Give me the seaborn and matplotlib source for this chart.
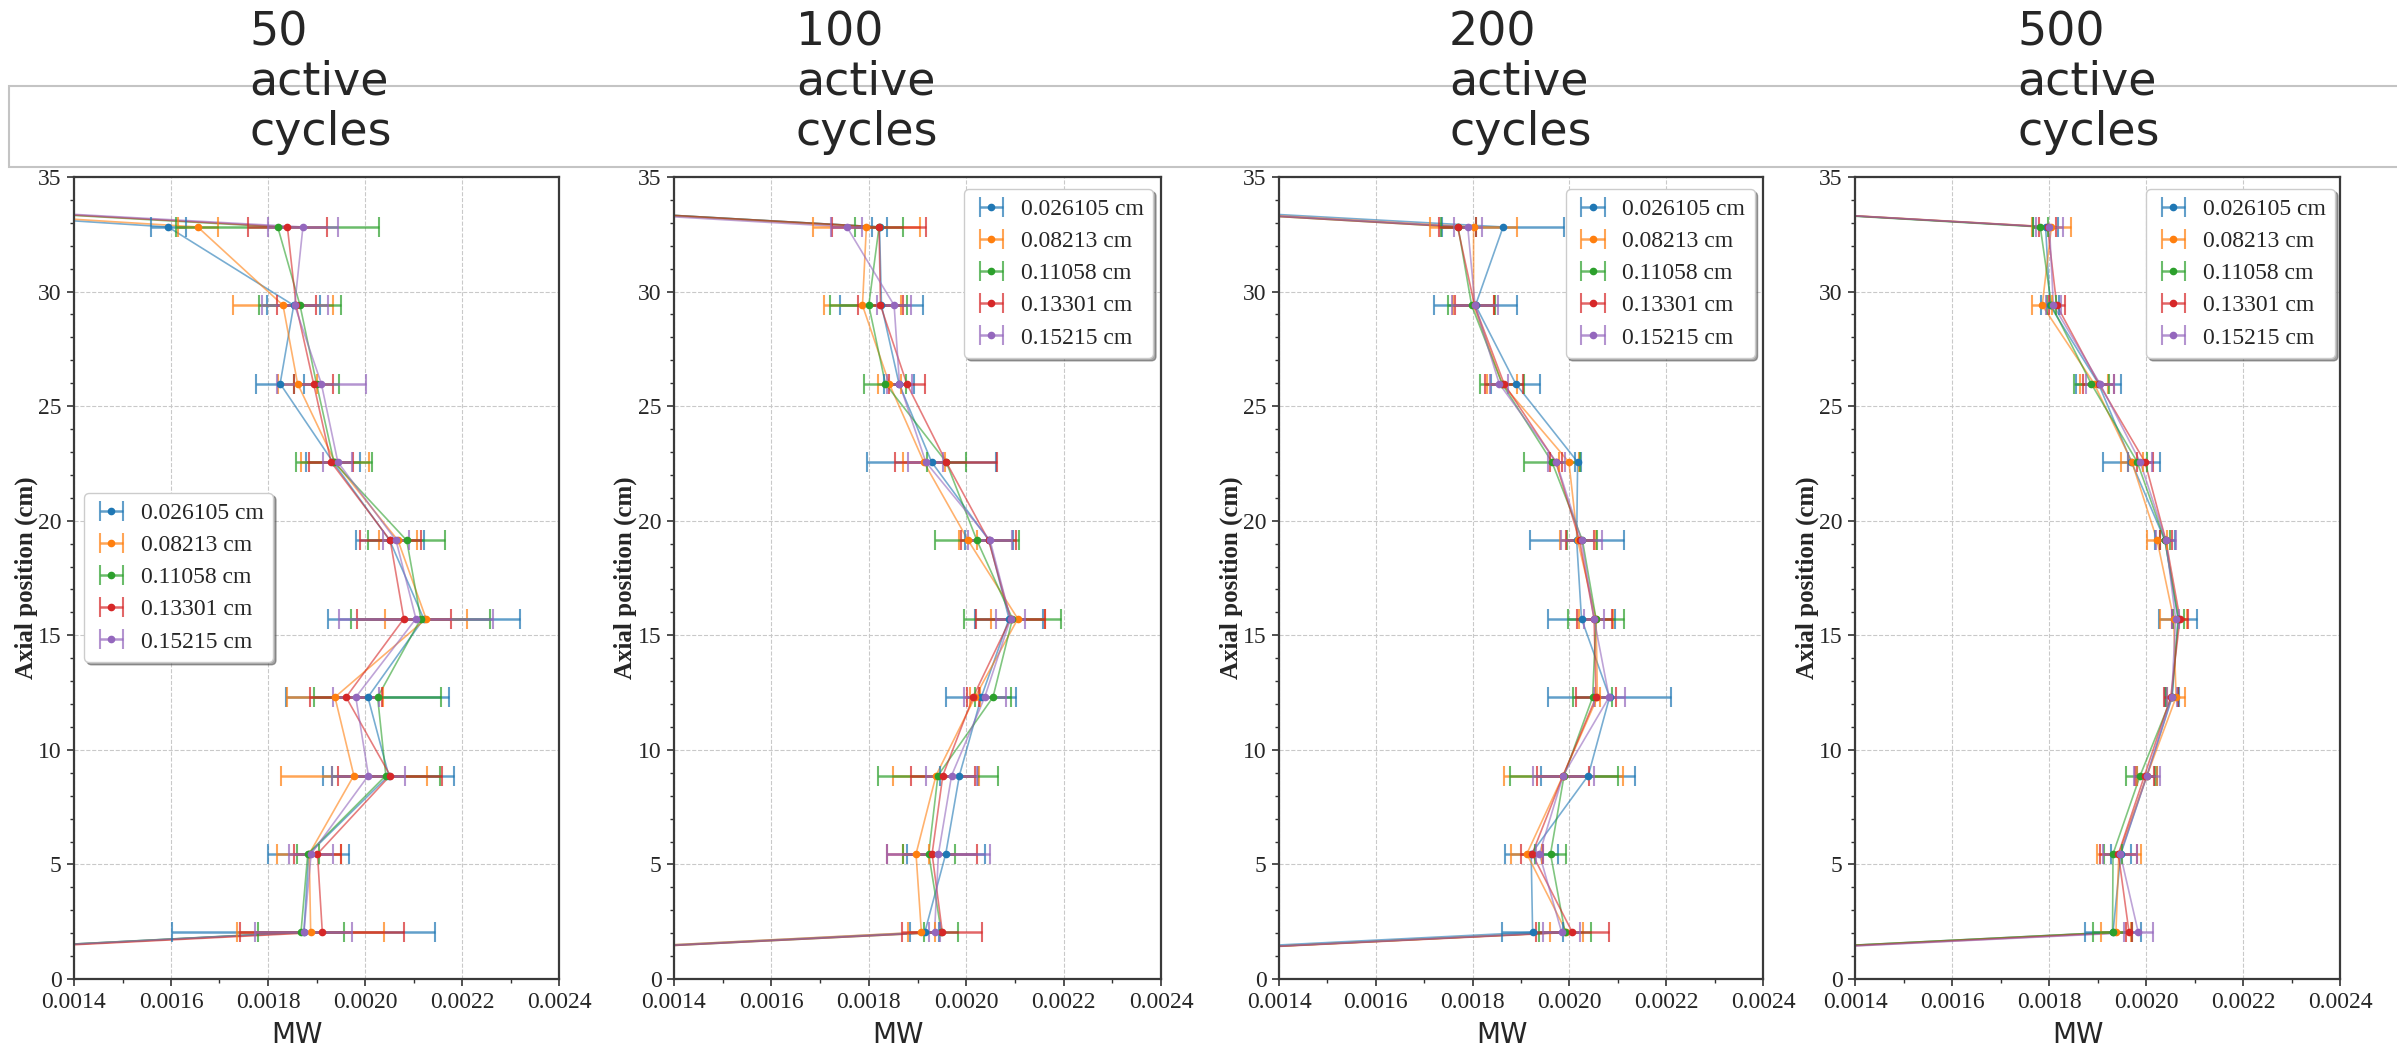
import matplotlib
matplotlib.use("Agg")
import matplotlib.pyplot as plt
from matplotlib.patches import Rectangle
from matplotlib.ticker import MultipleLocator, FormatStrFormatter
import pandas as pd
import seaborn as sns

# ---------------------------------------------------------------- data
thickness = ["0.026105 cm", "0.08213 cm", "0.11058 cm", "0.13301 cm", "0.15215 cm"]
cycles = ["50", "100", "200", "500"]

# axial node centres (cm), bottom to top
axial_z = [2.04, 5.46, 8.88, 12.30, 15.72, 19.14, 22.56, 25.98, 29.40, 32.82]
# zero-power boundary points at the bottom and the top of the rod
boundary_z = [0.0, 35.0]
boundary_mw = 0.0

# power per node (MW), one list per thickness, bottom to top
mw_50 = [
    [0.001874, 0.001884, 0.002049, 0.002006, 0.002121, 0.002051, 0.001934, 0.001825, 0.001853, 0.001594],
    [0.001888, 0.001885, 0.001977, 0.001938, 0.002126, 0.002068, 0.001938, 0.001861, 0.001831, 0.001655],
    [0.001868, 0.001882, 0.002043, 0.002026, 0.002115, 0.002086, 0.001936, 0.001900, 0.001866, 0.001820],
    [0.001912, 0.001902, 0.002052, 0.001961, 0.002080, 0.002052, 0.001930, 0.001894, 0.001858, 0.001840],
    [0.001874, 0.001889, 0.002007, 0.001981, 0.002105, 0.002064, 0.001944, 0.001910, 0.001855, 0.001872],
]
err_50 = [
    [0.000271, 0.000083, 0.000135, 0.000168, 0.000198, 0.000070, 0.000055, 0.000049, 0.000055, 0.000036],
    [0.000152, 0.000066, 0.000150, 0.000099, 0.000084, 0.000040, 0.000070, 0.000040, 0.000103, 0.000041],
    [0.000088, 0.000023, 0.000111, 0.000131, 0.000143, 0.000079, 0.000078, 0.000047, 0.000085, 0.000209],
    [0.000169, 0.000048, 0.000107, 0.000075, 0.000097, 0.000063, 0.000046, 0.000040, 0.000040, 0.000082],
    [0.000100, 0.000045, 0.000075, 0.000047, 0.000158, 0.000027, 0.000030, 0.000092, 0.000068, 0.000073],
]

mw_100 = [
    [0.001915, 0.001958, 0.001986, 0.002031, 0.002088, 0.002047, 0.001929, 0.001862, 0.001826, 0.001822],
    [0.001908, 0.001897, 0.001938, 0.002018, 0.002106, 0.002004, 0.001913, 0.001842, 0.001787, 0.001795],
    [0.001949, 0.001923, 0.001942, 0.002055, 0.002095, 0.002022, 0.001959, 0.001834, 0.001800, 0.001821],
    [0.001951, 0.001930, 0.001952, 0.002014, 0.002091, 0.002046, 0.001959, 0.001878, 0.001824, 0.001821],
    [0.001935, 0.001943, 0.001970, 0.002038, 0.002091, 0.002049, 0.001917, 0.001863, 0.001852, 0.001755],
]
err_100 = [
    [0.000030, 0.000080, 0.000039, 0.000072, 0.000070, 0.000050, 0.000133, 0.000030, 0.000086, 0.000015],
    [0.000027, 0.000027, 0.000088, 0.000010, 0.000055, 0.000018, 0.000043, 0.000024, 0.000080, 0.000110],
    [0.000035, 0.000053, 0.000123, 0.000037, 0.000100, 0.000087, 0.000040, 0.000043, 0.000079, 0.000050],
    [0.000082, 0.000093, 0.000066, 0.000012, 0.000071, 0.000056, 0.000105, 0.000037, 0.000047, 0.000096],
    [0.000011, 0.000105, 0.000053, 0.000043, 0.000029, 0.000046, 0.000036, 0.000025, 0.000035, 0.000032],
]

mw_200 = [
    [0.001924, 0.001921, 0.002039, 0.002083, 0.002025, 0.002015, 0.002017, 0.001889, 0.001806, 0.001863],
    [0.001994, 0.001912, 0.001987, 0.002058, 0.002055, 0.002017, 0.001999, 0.001861, 0.001802, 0.001802],
    [0.001991, 0.001961, 0.001989, 0.002048, 0.002055, 0.002027, 0.001964, 0.001861, 0.001798, 0.001770],
    [0.002006, 0.001923, 0.001987, 0.002055, 0.002051, 0.002021, 0.001972, 0.001865, 0.001804, 0.001769],
    [0.001984, 0.001938, 0.001987, 0.002082, 0.002051, 0.002025, 0.001973, 0.001855, 0.001805, 0.001790],
]
err_200 = [
    [0.000063, 0.000055, 0.000097, 0.000127, 0.000070, 0.000097, 0.000006, 0.000050, 0.000086, 0.000126],
    [0.000035, 0.000032, 0.000123, 0.000006, 0.000036, 0.000037, 0.000020, 0.000031, 0.000043, 0.000090],
    [0.000053, 0.000032, 0.000111, 0.000041, 0.000057, 0.000031, 0.000057, 0.000045, 0.000049, 0.000036],
    [0.000075, 0.000023, 0.000054, 0.000042, 0.000036, 0.000029, 0.000012, 0.000040, 0.000040, 0.000039],
    [0.000038, 0.000008, 0.000063, 0.000032, 0.000020, 0.000043, 0.000018, 0.000019, 0.000048, 0.000029],
]

mw_500 = [
    [0.001932, 0.001948, 0.002002, 0.002054, 0.002066, 0.002039, 0.001970, 0.001902, 0.001802, 0.001793],
    [0.001938, 0.001944, 0.002002, 0.002062, 0.002057, 0.002023, 0.001971, 0.001893, 0.001786, 0.001805],
    [0.001931, 0.001932, 0.001988, 0.002053, 0.002067, 0.002039, 0.001982, 0.001887, 0.001805, 0.001782],
    [0.001965, 0.001943, 0.001997, 0.002051, 0.002070, 0.002041, 0.001998, 0.001903, 0.001816, 0.001797],
    [0.001984, 0.001947, 0.002002, 0.002053, 0.002061, 0.002041, 0.001988, 0.001905, 0.001809, 0.001801],
]
err_500 = [
    [0.000058, 0.000021, 0.000020, 0.000015, 0.000040, 0.000021, 0.000058, 0.000046, 0.000018, 0.000025],
    [0.000031, 0.000045, 0.000020, 0.000019, 0.000028, 0.000020, 0.000022, 0.000029, 0.000021, 0.000040],
    [0.000040, 0.000018, 0.000030, 0.000012, 0.000012, 0.000010, 0.000020, 0.000036, 0.000010, 0.000015],
    [0.000007, 0.000038, 0.000020, 0.000014, 0.000017, 0.000012, 0.000016, 0.000032, 0.000016, 0.000018],
    [0.000030, 0.000035, 0.000026, 0.000010, 0.000008, 0.000020, 0.000025, 0.000029, 0.000016, 0.000028],
]

mw_ticks = [0.0014, 0.0016, 0.0018, 0.0020, 0.0022, 0.0024]
z_ticks = [0, 5, 10, 15, 20, 25, 30, 35]

panels = [(mw_50, err_50), (mw_100, err_100), (mw_200, err_200), (mw_500, err_500)]

# ---------------------------------------------------------------- style
sns.set_theme(style="white")
plt.rcParams["font.family"] = ["Liberation Serif", "DejaVu Serif"]
palette = sns.color_palette("tab10", len(thickness))

W, H = 2397, 1054
fig = plt.figure(figsize=(W / 100, H / 100), dpi=100)
fig.patch.set_facecolor("white")

# panel placement in pixels
panel_x = [(74, 559), (674, 1161), (1279, 1763), (1855, 2340)]
ax_top, ax_bottom = 177, 979
legend_place = [
    ("upper left", (0.021, 0.606)),
    ("upper right", (0.984, 0.985)),
    ("upper right", (0.983, 0.985)),
    ("upper right", (0.990, 0.985)),
]
title_left = [249, 796, 1449, 2017]

for k, ((mw_sets, err_sets), (x0, x1)) in enumerate(zip(panels, panel_x)):
    ax = fig.add_axes([x0 / W, 1 - ax_bottom / H, (x1 - x0) / W, (ax_bottom - ax_top) / H])

    records = []
    for name, vals in zip(thickness, mw_sets):
        zs = [boundary_z[0]] + axial_z + [boundary_z[1]]
        xs = [boundary_mw] + vals + [boundary_mw]
        for z, x in zip(zs, xs):
            records.append({"series": name, "z": z, "mw": x})
    df = pd.DataFrame(records)

    sns.lineplot(data=df, x="mw", y="z", hue="series", hue_order=thickness,
                 palette=palette, sort=False, estimator=None, linewidth=1.2,
                 alpha=0.6, legend=False, ax=ax, zorder=2)

    for name, vals, errs, c in zip(thickness, mw_sets, err_sets, palette):
        cont = ax.errorbar(vals, axial_z, xerr=errs, fmt="o", ms=4.5, color=c,
                           ecolor=c, elinewidth=1.8, capsize=7, capthick=1.5,
                           label=name, zorder=3)
        for cap in cont[1]:
            cap.set_alpha(0.7)
        for bar in cont[2]:
            bar.set_alpha(0.7)

    ax.set_xlim(mw_ticks[0], mw_ticks[-1])
    ax.set_ylim(z_ticks[0], z_ticks[-1])
    ax.set_xticks(mw_ticks)
    ax.set_yticks(z_ticks)
    ax.xaxis.set_major_formatter(FormatStrFormatter("%.4f"))
    ax.xaxis.set_minor_locator(MultipleLocator(0.0001))
    ax.yaxis.set_minor_locator(MultipleLocator(1))
    ax.grid(True, which="major", linestyle="--", linewidth=0.8, color="#c9c9c9")
    ax.tick_params(which="both", bottom=True, left=True, direction="out",
                   color="#333333")
    ax.tick_params(which="major", length=5, width=1.2, labelsize=17, pad=4)
    ax.tick_params(which="minor", length=3, width=1.0)
    for s in ax.spines.values():
        s.set_visible(True)
        s.set_color("#3a3a3a")
        s.set_linewidth(1.6)

    ax.set_ylabel("Axial position (cm)", fontsize=18, fontweight="bold")
    ax.yaxis.set_label_coords(-0.075, 0.5)
    ax.set_xlabel("MW", fontfamily="DejaVu Sans", fontsize=20)
    ax.xaxis.set_label_coords(0.46, -0.052)

    loc, anchor = legend_place[k]
    leg = ax.legend(loc=loc, bbox_to_anchor=anchor, borderaxespad=0,
                    frameon=True, fancybox=True, shadow=True, framealpha=1,
                    edgecolor="#cccccc", fontsize=17, labelspacing=0.45,
                    handlelength=1.5, handletextpad=0.5, borderpad=0.4)
    leg.get_frame().set_linewidth(1.0)

# header band with the cycle counts
fig.add_artist(Rectangle((9 / W, 1 - 167 / H), (W + 20) / W, 81 / H,
                         transform=fig.transFigure, facecolor="white",
                         edgecolor="#c4c4c4", linewidth=1.5, zorder=4))
for c, xl in zip(cycles, title_left):
    fig.text(xl / W, 1 - 10 / H, f"{c}\nactive\ncycles", ha="left", va="top",
             fontfamily="DejaVu Sans", fontweight="normal", fontsize=33,
             linespacing=1.14, zorder=5)

fig.savefig("out.png", dpi=100, facecolor="white")
